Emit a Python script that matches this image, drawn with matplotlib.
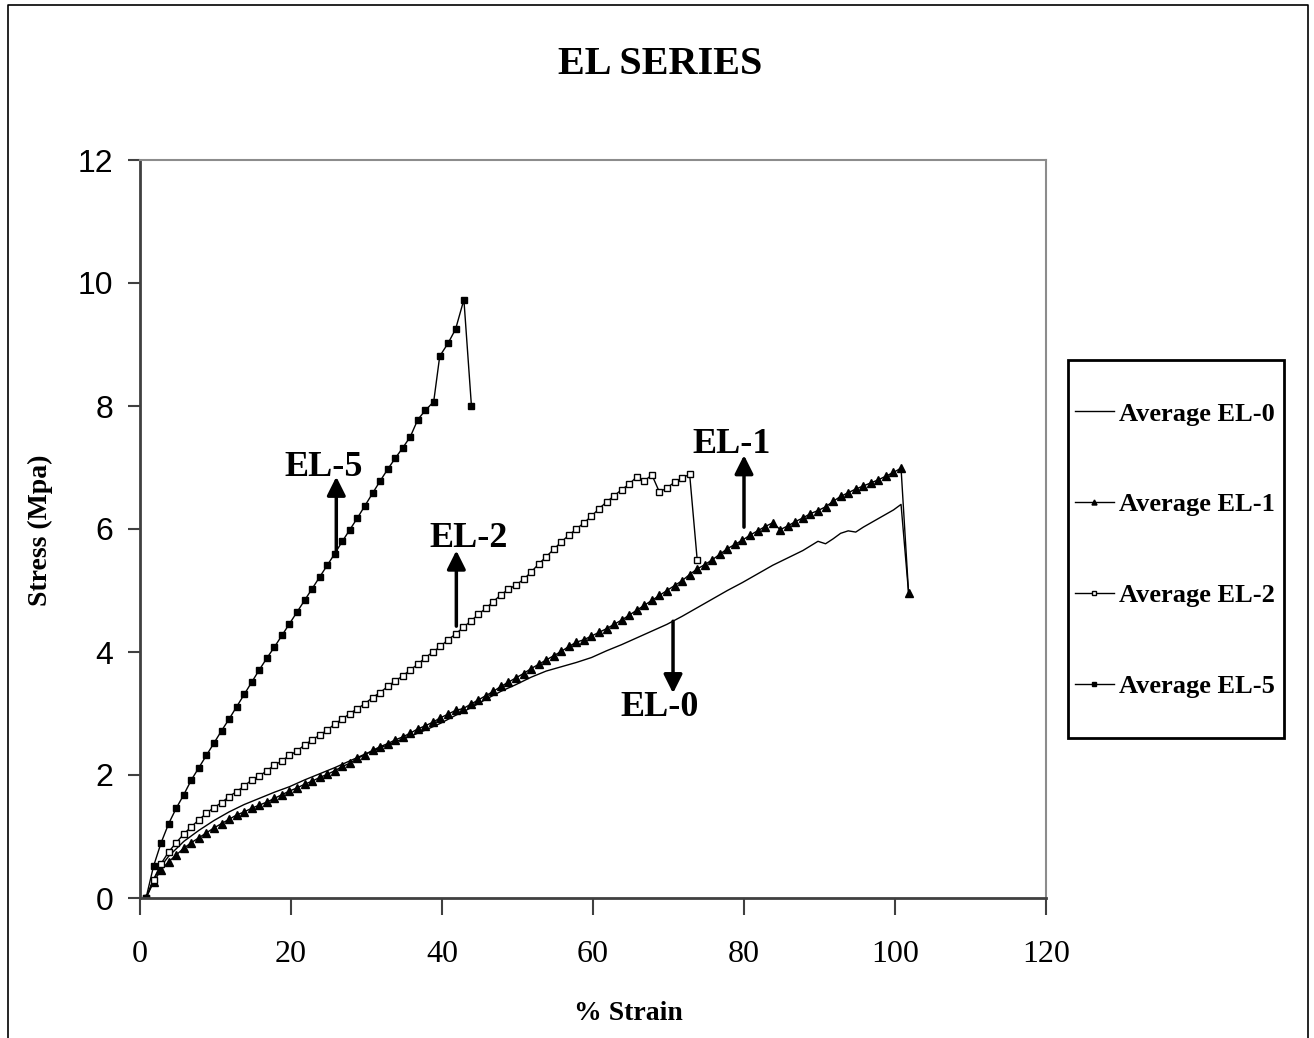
import matplotlib
matplotlib.use('Agg')
import matplotlib.pyplot as plt
from matplotlib.lines import Line2D
from matplotlib.patches import Rectangle

# data (% strain, stress in MPa)
el0_strain = [0.8, 1.8, 2.8, 3.8, 4.8, 5.8, 6.8, 7.8, 8.8, 9.8, 11.8, 13.8, 15.8, 17.8, 19.8,
              21.8, 23.8, 25.8, 27.8, 29.8, 31.8, 33.8, 35.8, 37.8, 39.8, 41.8, 43.8, 45.8,
              47.8, 49.8, 51.8, 53.8, 55.8, 57.8, 59.8, 61.8, 63.8, 65.8, 67.8, 69.8, 71.8,
              73.8, 75.8, 77.8, 79.8, 81.8, 83.8, 85.8, 87.8, 89.8, 90.8, 91.8, 92.8, 93.8,
              94.8, 95.8, 97.8, 99.8, 100.8, 101.8]
el0_stress = [0.0, 0.3, 0.52, 0.68, 0.8, 0.92, 1.01, 1.1, 1.18, 1.26, 1.4, 1.52, 1.62, 1.72, 1.81,
              1.92, 2.02, 2.12, 2.23, 2.34, 2.44, 2.54, 2.63, 2.73, 2.84, 2.97, 3.09, 3.23,
              3.36, 3.47, 3.59, 3.69, 3.76, 3.83, 3.91, 4.02, 4.12, 4.23, 4.34, 4.45, 4.58,
              4.72, 4.86, 5.0, 5.13, 5.27, 5.41, 5.53, 5.65, 5.8, 5.76, 5.84, 5.93, 5.97,
              5.95, 6.03, 6.17, 6.31, 6.4, 4.96]

el1_strain = [0.8, 1.8, 2.8, 3.8, 4.8, 5.8, 6.8, 7.8, 8.8, 9.8, 10.8, 11.8, 12.8, 13.8, 14.8,
              15.8, 16.8, 17.8, 18.8, 19.8, 20.8, 21.8, 22.8, 23.8, 24.8, 25.8, 26.8, 27.8,
              28.8, 29.8, 30.8, 31.8, 32.8, 33.8, 34.8, 35.8, 36.8, 37.8, 38.8, 39.8, 40.8,
              41.8, 42.8, 43.8, 44.8, 45.8, 46.8, 47.8, 48.8, 49.8, 50.8, 51.8, 52.8, 53.8,
              54.8, 55.8, 56.8, 57.8, 58.8, 59.8, 60.8, 61.8, 62.8, 63.8, 64.8, 65.8, 66.8,
              67.8, 68.8, 69.8, 70.8, 71.8, 72.8, 73.8, 74.8, 75.8, 76.8, 77.8, 78.8, 79.8,
              80.8, 81.8, 82.8, 83.8, 84.8, 85.8, 86.8, 87.8, 88.8, 89.8, 90.8, 91.8, 92.8,
              93.8, 94.8, 95.8, 96.8, 97.8, 98.8, 99.8, 100.8, 101.8]
el1_stress = [0.0, 0.26, 0.46, 0.59, 0.7, 0.81, 0.9, 0.98, 1.06, 1.14, 1.21, 1.28, 1.35, 1.4, 1.46,
              1.51, 1.56, 1.62, 1.68, 1.74, 1.79, 1.85, 1.9, 1.96, 2.01, 2.07, 2.14, 2.19,
              2.27, 2.33, 2.4, 2.46, 2.51, 2.57, 2.62, 2.68, 2.75, 2.8, 2.86, 2.93, 2.99,
              3.05, 3.08, 3.15, 3.22, 3.29, 3.36, 3.44, 3.51, 3.58, 3.65, 3.73, 3.8, 3.87,
              3.94, 4.01, 4.09, 4.16, 4.2, 4.26, 4.32, 4.38, 4.45, 4.52, 4.6, 4.68, 4.76,
              4.84, 4.92, 5.0, 5.08, 5.16, 5.26, 5.35, 5.42, 5.5, 5.59, 5.68, 5.75, 5.82,
              5.9, 5.97, 6.04, 6.1, 5.99, 6.05, 6.12, 6.18, 6.25, 6.3, 6.36, 6.45, 6.53,
              6.59, 6.65, 6.7, 6.75, 6.8, 6.86, 6.92, 6.99, 4.96]

el2_strain = [0.8, 1.8, 2.8, 3.8, 4.8, 5.8, 6.8, 7.8, 8.8, 9.8, 10.8, 11.8, 12.8, 13.8, 14.8,
              15.8, 16.8, 17.8, 18.8, 19.8, 20.8, 21.8, 22.8, 23.8, 24.8, 25.8, 26.8, 27.8,
              28.8, 29.8, 30.8, 31.8, 32.8, 33.8, 34.8, 35.8, 36.8, 37.8, 38.8, 39.8, 40.8,
              41.8, 42.8, 43.8, 44.8, 45.8, 46.8, 47.8, 48.8, 49.8, 50.8, 51.8, 52.8, 53.8,
              54.8, 55.8, 56.8, 57.8, 58.8, 59.8, 60.8, 61.8, 62.8, 63.8, 64.8, 65.8, 66.8,
              67.8, 68.8, 69.8, 70.8, 71.8, 72.8, 73.8]
el2_stress = [0.0, 0.3, 0.56, 0.75, 0.9, 1.04, 1.16, 1.27, 1.38, 1.47, 1.55, 1.65, 1.73, 1.82, 1.92,
              1.98, 2.07, 2.16, 2.23, 2.32, 2.39, 2.49, 2.57, 2.65, 2.73, 2.83, 2.91, 3.0,
              3.08, 3.16, 3.26, 3.34, 3.44, 3.53, 3.61, 3.71, 3.8, 3.91, 4.0, 4.09, 4.2,
              4.29, 4.4, 4.5, 4.61, 4.71, 4.82, 4.93, 5.02, 5.09, 5.18, 5.3, 5.43, 5.55,
              5.67, 5.79, 5.9, 6.0, 6.1, 6.21, 6.33, 6.44, 6.54, 6.64, 6.73, 6.85, 6.78,
              6.88, 6.6, 6.67, 6.76, 6.83, 6.89, 5.5]

el5_strain = [0.8, 1.8, 2.8, 3.8, 4.8, 5.8, 6.8, 7.8, 8.8, 9.8, 10.8, 11.8, 12.8, 13.8, 14.8,
              15.8, 16.8, 17.8, 18.8, 19.8, 20.8, 21.8, 22.8, 23.8, 24.8, 25.8, 26.8, 27.8,
              28.8, 29.8, 30.8, 31.8, 32.8, 33.8, 34.8, 35.8, 36.8, 37.8, 38.9, 39.7, 40.8,
              41.8, 42.9, 43.9]
el5_stress = [0.0, 0.52, 0.9, 1.21, 1.46, 1.68, 1.92, 2.12, 2.32, 2.52, 2.72, 2.91, 3.11, 3.31, 3.51,
              3.71, 3.9, 4.08, 4.27, 4.46, 4.65, 4.84, 5.03, 5.22, 5.41, 5.6, 5.8, 5.99,
              6.18, 6.38, 6.58, 6.78, 6.97, 7.15, 7.32, 7.5, 7.78, 7.93, 8.07, 8.81, 9.02,
              9.25, 9.73, 8.0]

series_labels = ['Average EL-0', 'Average EL-1', 'Average EL-2', 'Average EL-5']

# annotation text, arrow base and arrow tip (strain, stress)
notes = ['EL-5', 'EL-2', 'EL-1', 'EL-0']
arrow_base = [(26.0, 5.62), (41.9, 4.42), (80.0, 6.03), (70.6, 4.5)]
arrow_tip = [(26.0, 6.85), (41.9, 5.65), (80.0, 7.2), (70.6, 3.33)]
note_pos = [(24.3, 7.0), (43.5, 5.85), (78.3, 7.37), (68.8, 3.1)]

serif = 'Liberation Serif'
sans = 'Liberation Sans'

fig = plt.figure(figsize=(13.14, 10.38), dpi=100)
ax = fig.add_axes([140 / 1314, 1 - 898 / 1038, 906 / 1314, 738 / 1038])

ax.plot(el0_strain, el0_stress, color='black', lw=1.0, label=series_labels[0])
ax.plot(el1_strain, el1_stress, color='black', lw=1.0, marker='^', ms=6,
        mfc='black', mec='black', label=series_labels[1])
ax.plot(el2_strain, el2_stress, color='black', lw=1.0, marker='s', ms=4.5,
        mfc='white', mec='black', mew=1.0, label=series_labels[2])
ax.plot(el5_strain, el5_stress, color='black', lw=1.0, marker='s', ms=4.5,
        mfc='black', mec='black', label=series_labels[3])

for txt, b, t, p in zip(notes, arrow_base, arrow_tip, note_pos):
    ax.annotate('', xy=t, xytext=b,
                arrowprops=dict(arrowstyle='-|>', color='black', lw=2.5,
                                mutation_scale=28, shrinkA=0, shrinkB=0))
    ax.text(p[0], p[1], txt, ha='center', va='center', fontsize=26,
            fontweight='bold', family=serif)

ax.set_xlim(0, 120)
ax.set_ylim(0, 12)
ax.set_xticks([0, 20, 40, 60, 80, 100, 120])
ax.set_yticks([0, 2, 4, 6, 8, 10, 12])
ax.tick_params(axis='x', direction='out', length=12, width=1.5, color='#404040',
               pad=18, labelsize=23)
ax.tick_params(axis='y', direction='out', length=9, width=1.5, color='#404040',
               pad=10, labelsize=23)
for lab in ax.get_xticklabels():
    lab.set_family(serif)
for lab in ax.get_yticklabels():
    lab.set_family(sans)

ax.spines['left'].set_color('#404040')
ax.spines['bottom'].set_color('#404040')
ax.spines['left'].set_linewidth(2)
ax.spines['bottom'].set_linewidth(2)
ax.spines['top'].set_color('#8c8c8c')
ax.spines['right'].set_color('#8c8c8c')
ax.spines['top'].set_linewidth(1.5)
ax.spines['right'].set_linewidth(1.5)

fig.text(660 / 1314, 1 - 65 / 1038, 'EL SERIES', ha='center', va='center',
         fontsize=29, fontweight='bold', family=serif)
fig.text(628 / 1314, 1 - 1013 / 1038, '% Strain', ha='center', va='center',
         fontsize=20, fontweight='bold', family=serif)
fig.text(40 / 1314, 1 - 530 / 1038, 'Stress (Mpa)', ha='center', va='center',
         rotation=90, fontsize=20, fontweight='bold', family=serif)

# legend entries without frame; the frame is drawn separately (wide vertical padding)
leg = fig.legend(loc='center', bbox_to_anchor=(1175 / 1314, 1 - 550 / 1038),
                 prop={'family': serif, 'weight': 'bold', 'size': 19},
                 frameon=False, labelspacing=2.55, handlelength=1.45,
                 handletextpad=0.2, borderpad=0, borderaxespad=0, markerscale=0.6)
fig.add_artist(Rectangle((1068 / 1314, 1 - 738 / 1038), 216 / 1314, 378 / 1038,
                         transform=fig.transFigure, fill=False,
                         edgecolor='black', lw=2))

# outer chart border (open at the bottom, as in the reference)
fig.add_artist(Line2D([8 / 1314, 8 / 1314, 1308 / 1314, 1308 / 1314],
                      [0, 1 - 5 / 1038, 1 - 5 / 1038, 0],
                      transform=fig.transFigure, color='black', lw=1.2))

fig.savefig('out.png', dpi=100)
